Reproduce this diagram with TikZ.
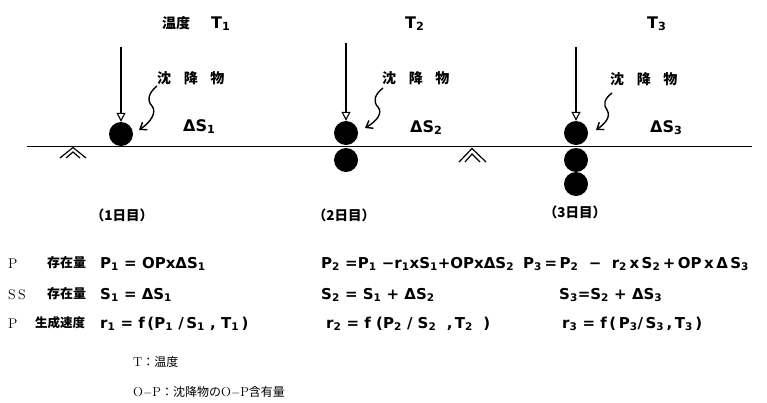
\documentclass[tikz,border=0pt]{standalone}
\usepackage{fontspec}
\usepackage{tikz}
\usetikzlibrary{arrows.meta}
\newfontfamily\eqf{DejaVu Sans}
\newfontfamily\jpf{Noto Sans CJK JP}
\newcommand{\lo}[1]{\textsubscript{#1}}

\begin{document}
\begin{tikzpicture}[x=1pt, y=-1pt,
  eq/.style={anchor=base west, inner sep=0pt, font=\eqf\bfseries\fontsize{15}{15}\selectfont},
  big/.style={anchor=base west, inner sep=0pt, font=\eqf\bfseries\fontsize{16}{16}\selectfont},
  jp/.style={anchor=base west, inner sep=0pt, font=\jpf\bfseries\fontsize{14}{14}\selectfont},
  day/.style={anchor=center, inner sep=0pt, font=\jpf\bfseries\fontsize{13.5}{14}\selectfont},
  note/.style={anchor=base west, inner sep=0pt, font=\jpf\fontsize{12}{12}\selectfont},
  lab/.style={anchor=base west, inner sep=0pt, font=\jpf\bfseries\fontsize{13}{13}\selectfont},
  rm/.style={anchor=base west, inner sep=0pt, font=\fontsize{14}{14}\selectfont},
  ball/.style={circle, fill, inner sep=0pt, minimum size=24pt},
  fall/.style={line width=1.3pt, -{Triangle[open, length=9pt, width=9pt, line width=1.1pt]}},
  wave/.style={line width=1.4pt, -{Straight Barb[length=6pt, width=9pt, line width=1.4pt]}}]
\useasboundingbox (0,0) rectangle (767,402);

% ground
\draw[line width=1.6pt] (27,146.5) -- (752,146.5);
\draw[line width=1.2pt] (60,158) -- (73,147.5) -- (86,158);
\draw[line width=1.2pt] (66,158) -- (73,152) -- (80,158);
\draw[line width=1.2pt] (459,162) -- (472,148.5) -- (486,162);
\draw[line width=1.2pt] (465,162) -- (472,154) -- (480,162);

% day 1
\node[jp] (t1) at (162,28) {温度};
\node[big] (tt1) at (211,28) {T\lo{1}};
\node[jp] (k1) at (157,83) {沈\hspace{0.9em}降\hspace{0.9em}物};
\node[big] (d1) at (183,131) {ΔS\lo{1}};
\node[ball] (b1) at (121,134) {};
\coordinate (a1) at (121,47);
\draw[fall] (a1) -- (b1.north);
\coordinate (w1) at (157,86);
\coordinate (e1) at (139,130);
\draw[wave] (w1) .. controls (148,93) and (147,101) .. (152,106)
  .. controls (157,112) and (151,122) .. (e1);
\node[day] (day1) at (122,215) {（1日目）};

% day 2
\node[big] (tt2) at (405,28) {T\lo{2}};
\node[jp] (k2) at (382,83) {沈\hspace{0.9em}降\hspace{0.9em}物};
\node[big] (d2) at (410,132) {ΔS\lo{2}};
\node[ball] (b2) at (346,133) {};
\node[ball] (b2b) at (346,160) {};
\coordinate (a2) at (346,43);
\draw[fall] (a2) -- (b2.north);
\coordinate (w2) at (383,88);
\coordinate (e2) at (365,128);
\draw[wave] (w2) .. controls (374,95) and (373,102) .. (378,107)
  .. controls (383,113) and (377,121) .. (e2);
\node[day] (day2) at (344,215) {（2日目）};

% day 3
\node[big] (tt3) at (647,28) {T\lo{3}};
\node[jp] (k3) at (610,84) {沈\hspace{0.9em}降\hspace{0.9em}物};
\node[big] (d3) at (650,132) {ΔS\lo{3}};
\node[ball] (b3) at (576,133) {};
\node[ball] (b3b) at (576,160) {};
\node[ball] (b3c) at (576,184) {};
\coordinate (a3) at (576,47);
\draw[fall] (a3) -- (b3.north);
\coordinate (w3) at (612,93);
\coordinate (e3) at (596,130);
\draw[wave] (w3) .. controls (604,99) and (603,105) .. (607,110)
  .. controls (611,116) and (606,123) .. (e3);
\node[day] (day3) at (575,212) {（3日目）};

% equations
\node[rm] (lp) at (8,268) {P};
\node[lab] (lp2) at (47,267) {存在量};
\node[eq] (p1) at (100,268) {P\lo{1} = OPxΔS\lo{1}};
\node[eq] (p2) at (321,268) {P\lo{2} =P\lo{1} −r\lo{1}xS\lo{1}+OPxΔS\lo{2}};
\node[eq] (p3) at (523,268) {P\lo{3}\,=\,P\lo{2}\ \ −\ \ r\lo{2}\,x\,S\lo{2}\,+\,OP\,x\,Δ\,S\lo{3}};

\node[rm] (ls) at (8,299) {S\,S};
\node[lab] (ls2) at (47,298) {存在量};
\node[eq] (s1) at (100,299) {S\lo{1} = ΔS\lo{1}};
\node[eq] (s2) at (321,299) {S\lo{2} = S\lo{1} + ΔS\lo{2}};
\node[eq] (s3) at (559,299) {S\lo{3}=S\lo{2} + ΔS\lo{3}};

\node[rm] (lr) at (8,328) {P};
\node[lab, font=\jpf\bfseries\fontsize{12.5}{12.5}\selectfont] (lr2) at (35,327) {生成速度};
\node[eq] (r1) at (100,328) {r\lo{1} = f\,(P\lo{1}\ /\,S\lo{1}\ ,\ T\lo{1}\,)};
\node[eq] (r2) at (326,328) {r\lo{2} = f\ (P\lo{2}\ /\ S\lo{2}\ \ ,\,T\lo{2}\ \ )};
\node[eq] (r3) at (562,328) {r\lo{3} = f\,(\,P\lo{3}/\,S\lo{3}\,,\,T\lo{3}\,)};

% notes
\node[note] (n1) at (133,366) {{\rmfamily\fontsize{13}{13}\selectfont T}：温度};
\node[note] (n2) at (133,396) {{\rmfamily\fontsize{13}{13}\selectfont O$-$P}：沈降物の{\rmfamily\fontsize{13}{13}\selectfont O$-$P}含有量};
\end{tikzpicture}
\end{document}
